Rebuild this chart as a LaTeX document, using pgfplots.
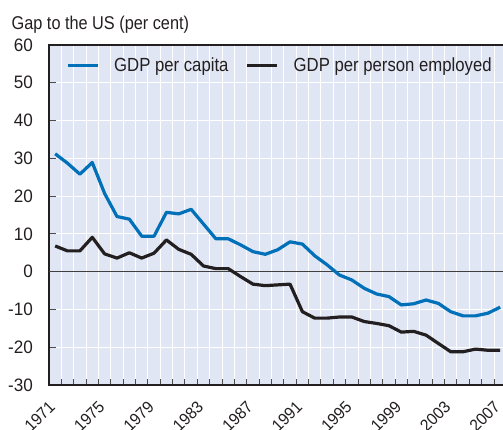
\documentclass[border=0pt]{standalone}
\usepackage{fontspec}
\setmainfont{Liberation Sans}[FakeStretch=0.88]
\newfontfamily\tickfont{Liberation Sans}[FakeStretch=0.95]
\usepackage{pgfplots}
\usepackage{pgfplotstable}
\pgfplotsset{compat=1.18}
\definecolor{bg}{RGB}{224,230,244}
\definecolor{oblue}{RGB}{0,112,184}
\definecolor{oblack}{RGB}{35,31,32}
\pgfplotstableread{
year capita employed
1971 31.2 6.8
1972 28.7 5.5
1973 25.8 5.5
1974 28.9 9.1
1975 20.7 4.7
1976 14.6 3.6
1977 13.9 5.0
1978 9.4 3.6
1979 9.4 4.9
1980 15.7 8.4
1981 15.3 5.9
1982 16.5 4.6
1983 12.6 1.5
1984 8.7 0.8
1985 8.7 0.8
1986 7.1 -1.3
1987 5.3 -3.3
1988 4.6 -3.7
1989 5.8 -3.5
1990 7.9 -3.3
1991 7.3 -10.6
1992 4.2 -12.3
1993 1.8 -12.3
1994 -0.9 -12.0
1995 -2.2 -12.0
1996 -4.4 -13.2
1997 -5.9 -13.7
1998 -6.6 -14.3
1999 -8.8 -16.0
2000 -8.5 -15.8
2001 -7.5 -16.8
2002 -8.4 -19.0
2003 -10.6 -21.2
2004 -11.7 -21.2
2005 -11.7 -20.5
2006 -11.0 -20.8
2007 -9.4 -20.8
}\gaptable
\begin{document}
\begin{tikzpicture}[x=1pt,y=1pt]
\useasboundingbox (0,0) rectangle (503,429);
\node[anchor=base west, inner sep=0pt, font=\fontsize{18.5}{22}\selectfont, text=oblack] at (11.5,399) {Gap to the US (per cent)};
\begin{axis}[
  at={(49pt,44pt)}, anchor=south west,
  scale only axis, width=456pt, height=340pt,
  xmin=1970.5, xmax=2007.39, ymin=-30, ymax=60,
  axis background/.style={fill=bg},
  axis line style={oblack, line width=2pt},
  xtick={1971,1975,1979,1983,1987,1991,1995,1999,2003,2007},
  xticklabels={1971,1975,1979,1983,1987,1991,1995,1999,2003,2007},
  minor xtick={1971.5,1972.5,...,2006.5},
  xtick pos=bottom, ytick pos=left,
  xtick align=inside, ytick align=inside,
  major x tick style={draw=none},
  minor x tick style={black!70, line width=1pt},
  minor tick length=6.5pt, major tick length=7pt,
  ytick={-30,-20,...,60},
  yticklabels={-30,-20,-10,0,10,20,30,40,50,60},
  y tick style={black!70, line width=1pt},
  xminorgrids, ymajorgrids,
  minor grid style={white, line width=1pt},
  major grid style={white, line width=1pt},
  yticklabel style={font=\tickfont\fontsize{18}{21}\selectfont, text=oblack, anchor=east, inner sep=0pt, xshift=-16pt},
  xticklabel style={font=\tickfont\fontsize{16.5}{19}\selectfont, text=oblack, anchor=east, inner sep=0pt, xshift=-3pt, yshift=-19pt, rotate=45},
  legend style={at={(0,1)}, anchor=west, xshift=17pt, yshift=-20.5pt, draw=none, fill=none,
    inner sep=0pt, outer sep=0pt,
    nodes={inner sep=0pt, text=oblack},
    font=\fontsize{19}{22}\selectfont,
    /tikz/every odd column/.style={column sep=15pt},
    /tikz/every even column/.style={column sep=17pt}},
  legend columns=-1,
  legend image code/.code={\draw[#1, line width=3.2pt] (0pt,0pt) -- (30pt,0pt);},
  clip=false,
]
\draw[black!75, line width=1.2pt] (axis cs:1970.5,0) -- (axis cs:2007.39,0);
\addplot[oblue, line width=3.2pt, line join=round] table[x=year, y=capita] {\gaptable};
\addlegendentry{GDP per capita}
\addplot[oblack, line width=3.2pt, line join=round] table[x=year, y=employed] {\gaptable};
\addlegendentry{GDP per person employed}
\end{axis}
\end{tikzpicture}
\end{document}
